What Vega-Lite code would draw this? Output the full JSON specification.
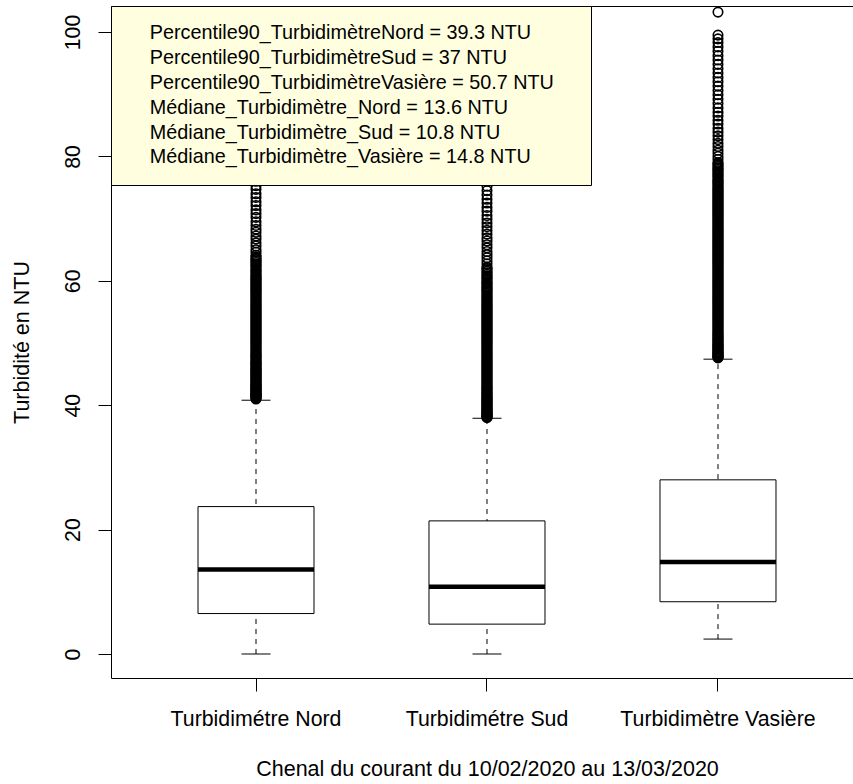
{
  "$schema": "https://vega.github.io/schema/vega-lite/v6.json",
  "width": 742,
  "height": 672,
  "autosize": {"type": "none"},
  "padding": {"left": 111, "top": 6, "right": 0, "bottom": 106},
  "background": "white",
  "datasets": {
    "boxes": [
      {"station": "Turbidimétre Nord", "lower": 0, "q1": 6.5, "median": 13.6, "q3": 23.7, "upper": 40.8},
      {"station": "Turbidimétre Sud", "lower": 0, "q1": 4.8, "median": 10.8, "q3": 21.4, "upper": 37.9},
      {"station": "Turbidimètre Vasière", "lower": 2.4, "q1": 8.4, "median": 14.8, "q3": 28.0, "upper": 47.4}
    ],
    "stats": [
      {"station": "Turbidimétre Nord", "value": 39.3, "label": "Percentile90_TurbidimètreNord = 39.3 NTU"},
      {"station": "Turbidimétre Sud", "value": 37, "label": "Percentile90_TurbidimètreSud = 37 NTU"},
      {"station": "Turbidimètre Vasière", "value": 50.7, "label": "Percentile90_TurbidimètreVasière = 50.7 NTU"},
      {"station": "Turbidimétre Nord", "value": 13.6, "label": "Médiane_Turbidimètre_Nord = 13.6 NTU"},
      {"station": "Turbidimétre Sud", "value": 10.8, "label": "Médiane_Turbidimètre_Sud = 10.8 NTU"},
      {"station": "Turbidimètre Vasière", "value": 14.8, "label": "Médiane_Turbidimètre_Vasière = 14.8 NTU"}
    ],
    "outliers": [
      {"station": "Turbidimétre Nord", "value": 41.0}, {"station": "Turbidimétre Nord", "value": 41.2}, {"station": "Turbidimétre Nord", "value": 41.4}, {"station": "Turbidimétre Nord", "value": 41.6}, {"station": "Turbidimétre Nord", "value": 41.8}, {"station": "Turbidimétre Nord", "value": 42.0}, {"station": "Turbidimétre Nord", "value": 42.3}, {"station": "Turbidimétre Nord", "value": 42.5}, {"station": "Turbidimétre Nord", "value": 42.8}, {"station": "Turbidimétre Nord", "value": 43.0},
      {"station": "Turbidimétre Nord", "value": 43.3}, {"station": "Turbidimétre Nord", "value": 43.6}, {"station": "Turbidimétre Nord", "value": 43.9}, {"station": "Turbidimétre Nord", "value": 44.2}, {"station": "Turbidimétre Nord", "value": 44.5}, {"station": "Turbidimétre Nord", "value": 44.8}, {"station": "Turbidimétre Nord", "value": 45.1}, {"station": "Turbidimétre Nord", "value": 45.4}, {"station": "Turbidimétre Nord", "value": 45.7}, {"station": "Turbidimétre Nord", "value": 46.0},
      {"station": "Turbidimétre Nord", "value": 46.4}, {"station": "Turbidimétre Nord", "value": 46.7}, {"station": "Turbidimétre Nord", "value": 47.0}, {"station": "Turbidimétre Nord", "value": 47.4}, {"station": "Turbidimétre Nord", "value": 47.8}, {"station": "Turbidimétre Nord", "value": 48.1}, {"station": "Turbidimétre Nord", "value": 48.5}, {"station": "Turbidimétre Nord", "value": 48.9}, {"station": "Turbidimétre Nord", "value": 49.3}, {"station": "Turbidimétre Nord", "value": 49.7},
      {"station": "Turbidimétre Nord", "value": 50.1}, {"station": "Turbidimétre Nord", "value": 50.5}, {"station": "Turbidimétre Nord", "value": 50.9}, {"station": "Turbidimétre Nord", "value": 51.3}, {"station": "Turbidimétre Nord", "value": 51.7}, {"station": "Turbidimétre Nord", "value": 52.1}, {"station": "Turbidimétre Nord", "value": 52.5}, {"station": "Turbidimétre Nord", "value": 52.9}, {"station": "Turbidimétre Nord", "value": 53.3}, {"station": "Turbidimétre Nord", "value": 53.7},
      {"station": "Turbidimétre Nord", "value": 54.1}, {"station": "Turbidimétre Nord", "value": 54.5}, {"station": "Turbidimétre Nord", "value": 54.9}, {"station": "Turbidimétre Nord", "value": 55.3}, {"station": "Turbidimétre Nord", "value": 55.7}, {"station": "Turbidimétre Nord", "value": 56.1}, {"station": "Turbidimétre Nord", "value": 56.5}, {"station": "Turbidimétre Nord", "value": 56.9}, {"station": "Turbidimétre Nord", "value": 57.3}, {"station": "Turbidimétre Nord", "value": 57.7},
      {"station": "Turbidimétre Nord", "value": 58.1}, {"station": "Turbidimétre Nord", "value": 58.5}, {"station": "Turbidimétre Nord", "value": 58.9}, {"station": "Turbidimétre Nord", "value": 59.3}, {"station": "Turbidimétre Nord", "value": 59.7}, {"station": "Turbidimétre Nord", "value": 60.1}, {"station": "Turbidimétre Nord", "value": 60.5}, {"station": "Turbidimétre Nord", "value": 60.9}, {"station": "Turbidimétre Nord", "value": 61.4}, {"station": "Turbidimétre Nord", "value": 61.8},
      {"station": "Turbidimétre Nord", "value": 62.3}, {"station": "Turbidimétre Nord", "value": 62.7}, {"station": "Turbidimétre Nord", "value": 63.2}, {"station": "Turbidimétre Nord", "value": 63.6}, {"station": "Turbidimétre Nord", "value": 64.1}, {"station": "Turbidimétre Nord", "value": 64.6}, {"station": "Turbidimétre Nord", "value": 65.0}, {"station": "Turbidimétre Nord", "value": 65.6}, {"station": "Turbidimétre Nord", "value": 66.1}, {"station": "Turbidimétre Nord", "value": 66.7},
      {"station": "Turbidimétre Nord", "value": 67.2}, {"station": "Turbidimétre Nord", "value": 67.8}, {"station": "Turbidimétre Nord", "value": 68.3}, {"station": "Turbidimétre Nord", "value": 68.9}, {"station": "Turbidimétre Nord", "value": 69.5}, {"station": "Turbidimétre Nord", "value": 70.2}, {"station": "Turbidimétre Nord", "value": 70.8}, {"station": "Turbidimétre Nord", "value": 71.4}, {"station": "Turbidimétre Nord", "value": 72.1}, {"station": "Turbidimétre Nord", "value": 72.7},
      {"station": "Turbidimétre Nord", "value": 73.4}, {"station": "Turbidimétre Nord", "value": 74.0}, {"station": "Turbidimétre Nord", "value": 74.7}, {"station": "Turbidimétre Nord", "value": 75.3}, {"station": "Turbidimétre Nord", "value": 76.0},
      {"station": "Turbidimétre Nord", "value": 41.1}, {"station": "Turbidimétre Nord", "value": 41.3}, {"station": "Turbidimétre Nord", "value": 41.5}, {"station": "Turbidimétre Nord", "value": 41.7}, {"station": "Turbidimétre Nord", "value": 41.9}, {"station": "Turbidimétre Nord", "value": 42.15}, {"station": "Turbidimétre Nord", "value": 42.4}, {"station": "Turbidimétre Nord", "value": 42.65}, {"station": "Turbidimétre Nord", "value": 42.9}, {"station": "Turbidimétre Nord", "value": 43.15},
      {"station": "Turbidimétre Nord", "value": 43.45}, {"station": "Turbidimétre Nord", "value": 43.75}, {"station": "Turbidimétre Nord", "value": 44.05}, {"station": "Turbidimétre Nord", "value": 44.35}, {"station": "Turbidimétre Nord", "value": 44.65}, {"station": "Turbidimétre Nord", "value": 44.95}, {"station": "Turbidimétre Nord", "value": 45.25}, {"station": "Turbidimétre Nord", "value": 45.55}, {"station": "Turbidimétre Nord", "value": 45.85}, {"station": "Turbidimétre Nord", "value": 46.2},
      {"station": "Turbidimétre Nord", "value": 46.55}, {"station": "Turbidimétre Nord", "value": 46.85}, {"station": "Turbidimétre Nord", "value": 47.2}, {"station": "Turbidimétre Nord", "value": 47.6}, {"station": "Turbidimétre Nord", "value": 47.95}, {"station": "Turbidimétre Nord", "value": 48.3}, {"station": "Turbidimétre Nord", "value": 48.7}, {"station": "Turbidimétre Nord", "value": 49.1}, {"station": "Turbidimétre Nord", "value": 49.5}, {"station": "Turbidimétre Nord", "value": 49.9},
      {"station": "Turbidimétre Nord", "value": 50.3}, {"station": "Turbidimétre Nord", "value": 50.7}, {"station": "Turbidimétre Nord", "value": 51.1}, {"station": "Turbidimétre Nord", "value": 51.5}, {"station": "Turbidimétre Nord", "value": 51.9}, {"station": "Turbidimétre Nord", "value": 52.3}, {"station": "Turbidimétre Nord", "value": 52.7}, {"station": "Turbidimétre Nord", "value": 53.1}, {"station": "Turbidimétre Nord", "value": 53.5}, {"station": "Turbidimétre Nord", "value": 53.9},
      {"station": "Turbidimétre Nord", "value": 54.3}, {"station": "Turbidimétre Nord", "value": 54.7}, {"station": "Turbidimétre Nord", "value": 55.1}, {"station": "Turbidimétre Nord", "value": 55.5}, {"station": "Turbidimétre Nord", "value": 55.9}, {"station": "Turbidimétre Nord", "value": 56.3}, {"station": "Turbidimétre Nord", "value": 56.7}, {"station": "Turbidimétre Nord", "value": 57.1}, {"station": "Turbidimétre Nord", "value": 57.5}, {"station": "Turbidimétre Nord", "value": 57.9},
      {"station": "Turbidimétre Nord", "value": 58.3}, {"station": "Turbidimétre Nord", "value": 58.7}, {"station": "Turbidimétre Nord", "value": 59.1}, {"station": "Turbidimétre Nord", "value": 59.5}, {"station": "Turbidimétre Nord", "value": 59.9}, {"station": "Turbidimétre Nord", "value": 60.3}, {"station": "Turbidimétre Nord", "value": 60.7}, {"station": "Turbidimétre Nord", "value": 61.15}, {"station": "Turbidimétre Nord", "value": 61.6}, {"station": "Turbidimétre Nord", "value": 62.05},
      {"station": "Turbidimétre Nord", "value": 62.5}, {"station": "Turbidimétre Nord", "value": 62.95}, {"station": "Turbidimétre Nord", "value": 63.4}, {"station": "Turbidimétre Nord", "value": 63.85},
      {"station": "Turbidimétre Sud", "value": 38.0}, {"station": "Turbidimétre Sud", "value": 38.2}, {"station": "Turbidimétre Sud", "value": 38.4}, {"station": "Turbidimétre Sud", "value": 38.6}, {"station": "Turbidimétre Sud", "value": 38.9}, {"station": "Turbidimétre Sud", "value": 39.1}, {"station": "Turbidimétre Sud", "value": 39.4}, {"station": "Turbidimétre Sud", "value": 39.7}, {"station": "Turbidimétre Sud", "value": 40.0}, {"station": "Turbidimétre Sud", "value": 40.3},
      {"station": "Turbidimétre Sud", "value": 40.6}, {"station": "Turbidimétre Sud", "value": 40.9}, {"station": "Turbidimétre Sud", "value": 41.2}, {"station": "Turbidimétre Sud", "value": 41.5}, {"station": "Turbidimétre Sud", "value": 41.9}, {"station": "Turbidimétre Sud", "value": 42.2}, {"station": "Turbidimétre Sud", "value": 42.6}, {"station": "Turbidimétre Sud", "value": 42.9}, {"station": "Turbidimétre Sud", "value": 43.3}, {"station": "Turbidimétre Sud", "value": 43.7},
      {"station": "Turbidimétre Sud", "value": 44.1}, {"station": "Turbidimétre Sud", "value": 44.5}, {"station": "Turbidimétre Sud", "value": 44.9}, {"station": "Turbidimétre Sud", "value": 45.3}, {"station": "Turbidimétre Sud", "value": 45.7}, {"station": "Turbidimétre Sud", "value": 46.1}, {"station": "Turbidimétre Sud", "value": 46.5}, {"station": "Turbidimétre Sud", "value": 46.9}, {"station": "Turbidimétre Sud", "value": 47.3}, {"station": "Turbidimétre Sud", "value": 47.7},
      {"station": "Turbidimétre Sud", "value": 48.1}, {"station": "Turbidimétre Sud", "value": 48.5}, {"station": "Turbidimétre Sud", "value": 48.9}, {"station": "Turbidimétre Sud", "value": 49.3}, {"station": "Turbidimétre Sud", "value": 49.7}, {"station": "Turbidimétre Sud", "value": 50.1}, {"station": "Turbidimétre Sud", "value": 50.5}, {"station": "Turbidimétre Sud", "value": 50.9}, {"station": "Turbidimétre Sud", "value": 51.3}, {"station": "Turbidimétre Sud", "value": 51.7},
      {"station": "Turbidimétre Sud", "value": 52.1}, {"station": "Turbidimétre Sud", "value": 52.5}, {"station": "Turbidimétre Sud", "value": 52.9}, {"station": "Turbidimétre Sud", "value": 53.3}, {"station": "Turbidimétre Sud", "value": 53.7}, {"station": "Turbidimétre Sud", "value": 54.1}, {"station": "Turbidimétre Sud", "value": 54.5}, {"station": "Turbidimétre Sud", "value": 54.9}, {"station": "Turbidimétre Sud", "value": 55.3}, {"station": "Turbidimétre Sud", "value": 55.7},
      {"station": "Turbidimétre Sud", "value": 56.1}, {"station": "Turbidimétre Sud", "value": 56.5}, {"station": "Turbidimétre Sud", "value": 56.9}, {"station": "Turbidimétre Sud", "value": 57.3}, {"station": "Turbidimétre Sud", "value": 57.7}, {"station": "Turbidimétre Sud", "value": 58.2}, {"station": "Turbidimétre Sud", "value": 58.6}, {"station": "Turbidimétre Sud", "value": 59.0}, {"station": "Turbidimétre Sud", "value": 59.5}, {"station": "Turbidimétre Sud", "value": 59.9},
      {"station": "Turbidimétre Sud", "value": 60.4}, {"station": "Turbidimétre Sud", "value": 60.8}, {"station": "Turbidimétre Sud", "value": 61.3}, {"station": "Turbidimétre Sud", "value": 61.8}, {"station": "Turbidimétre Sud", "value": 62.2}, {"station": "Turbidimétre Sud", "value": 62.7}, {"station": "Turbidimétre Sud", "value": 63.2}, {"station": "Turbidimétre Sud", "value": 63.7}, {"station": "Turbidimétre Sud", "value": 64.2}, {"station": "Turbidimétre Sud", "value": 64.7},
      {"station": "Turbidimétre Sud", "value": 65.3}, {"station": "Turbidimétre Sud", "value": 65.8}, {"station": "Turbidimétre Sud", "value": 66.4}, {"station": "Turbidimétre Sud", "value": 66.9}, {"station": "Turbidimétre Sud", "value": 67.5}, {"station": "Turbidimétre Sud", "value": 68.1}, {"station": "Turbidimétre Sud", "value": 68.7}, {"station": "Turbidimétre Sud", "value": 69.3}, {"station": "Turbidimétre Sud", "value": 69.9}, {"station": "Turbidimétre Sud", "value": 70.5},
      {"station": "Turbidimétre Sud", "value": 71.2}, {"station": "Turbidimétre Sud", "value": 71.8}, {"station": "Turbidimétre Sud", "value": 72.5}, {"station": "Turbidimétre Sud", "value": 73.1}, {"station": "Turbidimétre Sud", "value": 73.8}, {"station": "Turbidimétre Sud", "value": 74.5}, {"station": "Turbidimétre Sud", "value": 75.2}, {"station": "Turbidimétre Sud", "value": 76.0},
      {"station": "Turbidimétre Sud", "value": 38.1}, {"station": "Turbidimétre Sud", "value": 38.3}, {"station": "Turbidimétre Sud", "value": 38.5}, {"station": "Turbidimétre Sud", "value": 38.75}, {"station": "Turbidimétre Sud", "value": 39.0}, {"station": "Turbidimétre Sud", "value": 39.25}, {"station": "Turbidimétre Sud", "value": 39.55}, {"station": "Turbidimétre Sud", "value": 39.85}, {"station": "Turbidimétre Sud", "value": 40.15}, {"station": "Turbidimétre Sud", "value": 40.45},
      {"station": "Turbidimétre Sud", "value": 40.75}, {"station": "Turbidimétre Sud", "value": 41.05}, {"station": "Turbidimétre Sud", "value": 41.35}, {"station": "Turbidimétre Sud", "value": 41.7}, {"station": "Turbidimétre Sud", "value": 42.05}, {"station": "Turbidimétre Sud", "value": 42.4}, {"station": "Turbidimétre Sud", "value": 42.75}, {"station": "Turbidimétre Sud", "value": 43.1}, {"station": "Turbidimétre Sud", "value": 43.5}, {"station": "Turbidimétre Sud", "value": 43.9},
      {"station": "Turbidimétre Sud", "value": 44.3}, {"station": "Turbidimétre Sud", "value": 44.7}, {"station": "Turbidimétre Sud", "value": 45.1}, {"station": "Turbidimétre Sud", "value": 45.5}, {"station": "Turbidimétre Sud", "value": 45.9}, {"station": "Turbidimétre Sud", "value": 46.3}, {"station": "Turbidimétre Sud", "value": 46.7}, {"station": "Turbidimétre Sud", "value": 47.1}, {"station": "Turbidimétre Sud", "value": 47.5}, {"station": "Turbidimétre Sud", "value": 47.9},
      {"station": "Turbidimétre Sud", "value": 48.3}, {"station": "Turbidimétre Sud", "value": 48.7}, {"station": "Turbidimétre Sud", "value": 49.1}, {"station": "Turbidimétre Sud", "value": 49.5}, {"station": "Turbidimétre Sud", "value": 49.9}, {"station": "Turbidimétre Sud", "value": 50.3}, {"station": "Turbidimétre Sud", "value": 50.7}, {"station": "Turbidimétre Sud", "value": 51.1}, {"station": "Turbidimétre Sud", "value": 51.5}, {"station": "Turbidimétre Sud", "value": 51.9},
      {"station": "Turbidimétre Sud", "value": 52.3}, {"station": "Turbidimétre Sud", "value": 52.7}, {"station": "Turbidimétre Sud", "value": 53.1}, {"station": "Turbidimétre Sud", "value": 53.5}, {"station": "Turbidimétre Sud", "value": 53.9}, {"station": "Turbidimétre Sud", "value": 54.3}, {"station": "Turbidimétre Sud", "value": 54.7}, {"station": "Turbidimétre Sud", "value": 55.1}, {"station": "Turbidimétre Sud", "value": 55.5}, {"station": "Turbidimétre Sud", "value": 55.9},
      {"station": "Turbidimétre Sud", "value": 56.3}, {"station": "Turbidimétre Sud", "value": 56.7}, {"station": "Turbidimétre Sud", "value": 57.1}, {"station": "Turbidimétre Sud", "value": 57.5}, {"station": "Turbidimétre Sud", "value": 57.95}, {"station": "Turbidimétre Sud", "value": 58.4}, {"station": "Turbidimétre Sud", "value": 58.8}, {"station": "Turbidimétre Sud", "value": 59.25}, {"station": "Turbidimétre Sud", "value": 59.7}, {"station": "Turbidimétre Sud", "value": 60.15},
      {"station": "Turbidimétre Sud", "value": 60.6}, {"station": "Turbidimétre Sud", "value": 61.05}, {"station": "Turbidimétre Sud", "value": 61.55}, {"station": "Turbidimétre Sud", "value": 62.0},
      {"station": "Turbidimètre Vasière", "value": 47.6}, {"station": "Turbidimètre Vasière", "value": 47.8}, {"station": "Turbidimètre Vasière", "value": 48.0}, {"station": "Turbidimètre Vasière", "value": 48.3}, {"station": "Turbidimètre Vasière", "value": 48.5}, {"station": "Turbidimètre Vasière", "value": 48.8}, {"station": "Turbidimètre Vasière", "value": 49.1}, {"station": "Turbidimètre Vasière", "value": 49.4}, {"station": "Turbidimètre Vasière", "value": 49.7}, {"station": "Turbidimètre Vasière", "value": 50.0},
      {"station": "Turbidimètre Vasière", "value": 50.4}, {"station": "Turbidimètre Vasière", "value": 50.7}, {"station": "Turbidimètre Vasière", "value": 51.1}, {"station": "Turbidimètre Vasière", "value": 51.4}, {"station": "Turbidimètre Vasière", "value": 51.8}, {"station": "Turbidimètre Vasière", "value": 52.2}, {"station": "Turbidimètre Vasière", "value": 52.6}, {"station": "Turbidimètre Vasière", "value": 53.0}, {"station": "Turbidimètre Vasière", "value": 53.4}, {"station": "Turbidimètre Vasière", "value": 53.8},
      {"station": "Turbidimètre Vasière", "value": 54.2}, {"station": "Turbidimètre Vasière", "value": 54.6}, {"station": "Turbidimètre Vasière", "value": 55.0}, {"station": "Turbidimètre Vasière", "value": 55.4}, {"station": "Turbidimètre Vasière", "value": 55.8}, {"station": "Turbidimètre Vasière", "value": 56.2}, {"station": "Turbidimètre Vasière", "value": 56.6}, {"station": "Turbidimètre Vasière", "value": 57.0}, {"station": "Turbidimètre Vasière", "value": 57.4}, {"station": "Turbidimètre Vasière", "value": 57.8},
      {"station": "Turbidimètre Vasière", "value": 58.2}, {"station": "Turbidimètre Vasière", "value": 58.6}, {"station": "Turbidimètre Vasière", "value": 59.0}, {"station": "Turbidimètre Vasière", "value": 59.4}, {"station": "Turbidimètre Vasière", "value": 59.8}, {"station": "Turbidimètre Vasière", "value": 60.2}, {"station": "Turbidimètre Vasière", "value": 60.6}, {"station": "Turbidimètre Vasière", "value": 61.0}, {"station": "Turbidimètre Vasière", "value": 61.4}, {"station": "Turbidimètre Vasière", "value": 61.8},
      {"station": "Turbidimètre Vasière", "value": 62.2}, {"station": "Turbidimètre Vasière", "value": 62.6}, {"station": "Turbidimètre Vasière", "value": 63.0}, {"station": "Turbidimètre Vasière", "value": 63.4}, {"station": "Turbidimètre Vasière", "value": 63.8}, {"station": "Turbidimètre Vasière", "value": 64.2}, {"station": "Turbidimètre Vasière", "value": 64.6}, {"station": "Turbidimètre Vasière", "value": 65.0}, {"station": "Turbidimètre Vasière", "value": 65.4}, {"station": "Turbidimètre Vasière", "value": 65.8},
      {"station": "Turbidimètre Vasière", "value": 66.2}, {"station": "Turbidimètre Vasière", "value": 66.6}, {"station": "Turbidimètre Vasière", "value": 67.0}, {"station": "Turbidimètre Vasière", "value": 67.4}, {"station": "Turbidimètre Vasière", "value": 67.8}, {"station": "Turbidimètre Vasière", "value": 68.2}, {"station": "Turbidimètre Vasière", "value": 68.6}, {"station": "Turbidimètre Vasière", "value": 69.0}, {"station": "Turbidimètre Vasière", "value": 69.4}, {"station": "Turbidimètre Vasière", "value": 69.8},
      {"station": "Turbidimètre Vasière", "value": 70.2}, {"station": "Turbidimètre Vasière", "value": 70.6}, {"station": "Turbidimètre Vasière", "value": 71.0}, {"station": "Turbidimètre Vasière", "value": 71.4}, {"station": "Turbidimètre Vasière", "value": 71.8}, {"station": "Turbidimètre Vasière", "value": 72.2}, {"station": "Turbidimètre Vasière", "value": 72.6}, {"station": "Turbidimètre Vasière", "value": 73.0}, {"station": "Turbidimètre Vasière", "value": 73.4}, {"station": "Turbidimètre Vasière", "value": 73.8},
      {"station": "Turbidimètre Vasière", "value": 74.2}, {"station": "Turbidimètre Vasière", "value": 74.6}, {"station": "Turbidimètre Vasière", "value": 75.0}, {"station": "Turbidimètre Vasière", "value": 75.5}, {"station": "Turbidimètre Vasière", "value": 75.9}, {"station": "Turbidimètre Vasière", "value": 76.3}, {"station": "Turbidimètre Vasière", "value": 76.8}, {"station": "Turbidimètre Vasière", "value": 77.2}, {"station": "Turbidimètre Vasière", "value": 77.7}, {"station": "Turbidimètre Vasière", "value": 78.1},
      {"station": "Turbidimètre Vasière", "value": 78.6}, {"station": "Turbidimètre Vasière", "value": 79.0}, {"station": "Turbidimètre Vasière", "value": 79.5}, {"station": "Turbidimètre Vasière", "value": 80.0}, {"station": "Turbidimètre Vasière", "value": 80.5}, {"station": "Turbidimètre Vasière", "value": 81.0}, {"station": "Turbidimètre Vasière", "value": 81.6}, {"station": "Turbidimètre Vasière", "value": 82.1}, {"station": "Turbidimètre Vasière", "value": 82.7}, {"station": "Turbidimètre Vasière", "value": 83.3},
      {"station": "Turbidimètre Vasière", "value": 83.9}, {"station": "Turbidimètre Vasière", "value": 84.5}, {"station": "Turbidimètre Vasière", "value": 85.2}, {"station": "Turbidimètre Vasière", "value": 85.8}, {"station": "Turbidimètre Vasière", "value": 86.5}, {"station": "Turbidimètre Vasière", "value": 87.1}, {"station": "Turbidimètre Vasière", "value": 87.8}, {"station": "Turbidimètre Vasière", "value": 88.5}, {"station": "Turbidimètre Vasière", "value": 89.2}, {"station": "Turbidimètre Vasière", "value": 89.9},
      {"station": "Turbidimètre Vasière", "value": 90.6}, {"station": "Turbidimètre Vasière", "value": 91.3}, {"station": "Turbidimètre Vasière", "value": 92.0}, {"station": "Turbidimètre Vasière", "value": 92.7}, {"station": "Turbidimètre Vasière", "value": 93.4}, {"station": "Turbidimètre Vasière", "value": 94.1}, {"station": "Turbidimètre Vasière", "value": 94.8}, {"station": "Turbidimètre Vasière", "value": 95.5}, {"station": "Turbidimètre Vasière", "value": 96.2}, {"station": "Turbidimètre Vasière", "value": 96.9},
      {"station": "Turbidimètre Vasière", "value": 97.6}, {"station": "Turbidimètre Vasière", "value": 98.3}, {"station": "Turbidimètre Vasière", "value": 98.9}, {"station": "Turbidimètre Vasière", "value": 99.5}, {"station": "Turbidimètre Vasière", "value": 103.2},
      {"station": "Turbidimètre Vasière", "value": 47.7}, {"station": "Turbidimètre Vasière", "value": 47.9}, {"station": "Turbidimètre Vasière", "value": 48.15}, {"station": "Turbidimètre Vasière", "value": 48.4}, {"station": "Turbidimètre Vasière", "value": 48.65}, {"station": "Turbidimètre Vasière", "value": 48.95}, {"station": "Turbidimètre Vasière", "value": 49.25}, {"station": "Turbidimètre Vasière", "value": 49.55}, {"station": "Turbidimètre Vasière", "value": 49.85}, {"station": "Turbidimètre Vasière", "value": 50.2},
      {"station": "Turbidimètre Vasière", "value": 50.55}, {"station": "Turbidimètre Vasière", "value": 50.9}, {"station": "Turbidimètre Vasière", "value": 51.25}, {"station": "Turbidimètre Vasière", "value": 51.6}, {"station": "Turbidimètre Vasière", "value": 52.0}, {"station": "Turbidimètre Vasière", "value": 52.4}, {"station": "Turbidimètre Vasière", "value": 52.8}, {"station": "Turbidimètre Vasière", "value": 53.2}, {"station": "Turbidimètre Vasière", "value": 53.6}, {"station": "Turbidimètre Vasière", "value": 54.0},
      {"station": "Turbidimètre Vasière", "value": 54.4}, {"station": "Turbidimètre Vasière", "value": 54.8}, {"station": "Turbidimètre Vasière", "value": 55.2}, {"station": "Turbidimètre Vasière", "value": 55.6}, {"station": "Turbidimètre Vasière", "value": 56.0}, {"station": "Turbidimètre Vasière", "value": 56.4}, {"station": "Turbidimètre Vasière", "value": 56.8}, {"station": "Turbidimètre Vasière", "value": 57.2}, {"station": "Turbidimètre Vasière", "value": 57.6}, {"station": "Turbidimètre Vasière", "value": 58.0},
      {"station": "Turbidimètre Vasière", "value": 58.4}, {"station": "Turbidimètre Vasière", "value": 58.8}, {"station": "Turbidimètre Vasière", "value": 59.2}, {"station": "Turbidimètre Vasière", "value": 59.6}, {"station": "Turbidimètre Vasière", "value": 60.0}, {"station": "Turbidimètre Vasière", "value": 60.4}, {"station": "Turbidimètre Vasière", "value": 60.8}, {"station": "Turbidimètre Vasière", "value": 61.2}, {"station": "Turbidimètre Vasière", "value": 61.6}, {"station": "Turbidimètre Vasière", "value": 62.0},
      {"station": "Turbidimètre Vasière", "value": 62.4}, {"station": "Turbidimètre Vasière", "value": 62.8}, {"station": "Turbidimètre Vasière", "value": 63.2}, {"station": "Turbidimètre Vasière", "value": 63.6}, {"station": "Turbidimètre Vasière", "value": 64.0}, {"station": "Turbidimètre Vasière", "value": 64.4}, {"station": "Turbidimètre Vasière", "value": 64.8}, {"station": "Turbidimètre Vasière", "value": 65.2}, {"station": "Turbidimètre Vasière", "value": 65.6}, {"station": "Turbidimètre Vasière", "value": 66.0},
      {"station": "Turbidimètre Vasière", "value": 66.4}, {"station": "Turbidimètre Vasière", "value": 66.8}, {"station": "Turbidimètre Vasière", "value": 67.2}, {"station": "Turbidimètre Vasière", "value": 67.6}, {"station": "Turbidimètre Vasière", "value": 68.0}, {"station": "Turbidimètre Vasière", "value": 68.4}, {"station": "Turbidimètre Vasière", "value": 68.8}, {"station": "Turbidimètre Vasière", "value": 69.2}, {"station": "Turbidimètre Vasière", "value": 69.6}, {"station": "Turbidimètre Vasière", "value": 70.0},
      {"station": "Turbidimètre Vasière", "value": 70.4}, {"station": "Turbidimètre Vasière", "value": 70.8}, {"station": "Turbidimètre Vasière", "value": 71.2}, {"station": "Turbidimètre Vasière", "value": 71.6}, {"station": "Turbidimètre Vasière", "value": 72.0}, {"station": "Turbidimètre Vasière", "value": 72.4}, {"station": "Turbidimètre Vasière", "value": 72.8}, {"station": "Turbidimètre Vasière", "value": 73.2}, {"station": "Turbidimètre Vasière", "value": 73.6}, {"station": "Turbidimètre Vasière", "value": 74.0},
      {"station": "Turbidimètre Vasière", "value": 74.4}, {"station": "Turbidimètre Vasière", "value": 74.8}, {"station": "Turbidimètre Vasière", "value": 75.25}, {"station": "Turbidimètre Vasière", "value": 75.7}, {"station": "Turbidimètre Vasière", "value": 76.1}, {"station": "Turbidimètre Vasière", "value": 76.55}, {"station": "Turbidimètre Vasière", "value": 77.0}, {"station": "Turbidimètre Vasière", "value": 77.45}, {"station": "Turbidimètre Vasière", "value": 77.9}, {"station": "Turbidimètre Vasière", "value": 78.35},
      {"station": "Turbidimètre Vasière", "value": 78.8}
    ]
  },
  "layer": [
    {
      "layer": [
        {
          "data": {"name": "boxes"},
          "mark": {"type": "rule", "color": "black", "strokeWidth": 1, "strokeDash": [5, 5]},
          "encoding": {
            "x": {"field": "station", "type": "nominal", "title": "Chenal du courant du 10/02/2020 au 13/03/2020",
                  "scale": {"type": "band", "domain": ["Turbidimétre Nord", "Turbidimétre Sud", "Turbidimètre Vasière"], "paddingInner": 0, "paddingOuter": 0.1061, "align": 0.602},
                  "axis": {"orient": "bottom", "labelAngle": 0, "grid": false, "domainColor": "black", "tickColor": "black", "tickSize": 13,
                           "labelFontSize": 21.3, "labelColor": "black", "labelBaseline": "alphabetic", "labelPadding": 34, "labelLimit": 0,
                           "titleFontSize": 21.5, "titleFontWeight": "normal", "titleColor": "black", "titleX": 376, "titleY": 97, "titleBaseline": "alphabetic", "titleAlign": "center", "titleAnchor": "middle"}},
            "y": {"field": "lower", "type": "quantitative", "title": "Turbidité en NTU",
                  "scale": {"domain": [-3.86, 104.18], "nice": false, "zero": false},
                  "axis": {"values": [0, 20, 40, 60, 80, 100], "grid": false, "domainColor": "black", "tickColor": "black", "tickSize": 13,
                           "labelAngle": 270, "labelAlign": "center", "labelBaseline": "alphabetic", "labelPadding": 19, "labelFontSize": 21.3, "labelColor": "black",
                           "titleFontSize": 21.5, "titleFontWeight": "normal", "titleColor": "black", "titleAngle": 270, "titleX": -83, "titleY": 336, "titleBaseline": "alphabetic", "titleAlign": "center"}},
            "y2": {"field": "upper"}
          }
        },
        {
          "data": {"name": "boxes"},
          "mark": {"type": "bar", "size": 116, "fill": "white", "stroke": "black", "strokeWidth": 1},
          "encoding": {
            "x": {"field": "station", "type": "nominal", "title": "Chenal du courant du 10/02/2020 au 13/03/2020"},
            "y": {"field": "q1", "type": "quantitative", "title": "Turbidité en NTU"},
            "y2": {"field": "q3"}
          }
        },
        {
          "data": {"name": "boxes"},
          "mark": {"type": "tick", "size": 116, "thickness": 4.5, "color": "black", "opacity": 1},
          "encoding": {
            "x": {"field": "station", "type": "nominal", "title": "Chenal du courant du 10/02/2020 au 13/03/2020"},
            "y": {"field": "median", "type": "quantitative", "title": "Turbidité en NTU"}
          }
        },
        {
          "data": {"name": "boxes"},
          "mark": {"type": "tick", "size": 29, "thickness": 1, "color": "black", "opacity": 1},
          "encoding": {
            "x": {"field": "station", "type": "nominal", "title": "Chenal du courant du 10/02/2020 au 13/03/2020"},
            "y": {"field": "lower", "type": "quantitative", "title": "Turbidité en NTU"}
          }
        },
        {
          "data": {"name": "boxes"},
          "mark": {"type": "tick", "size": 29, "thickness": 1, "color": "black", "opacity": 1},
          "encoding": {
            "x": {"field": "station", "type": "nominal", "title": "Chenal du courant du 10/02/2020 au 13/03/2020"},
            "y": {"field": "upper", "type": "quantitative", "title": "Turbidité en NTU"}
          }
        },
        {
          "data": {"name": "outliers"},
          "mark": {"type": "point", "shape": "circle", "filled": false, "size": 90, "strokeWidth": 1.6, "color": "black", "opacity": 1},
          "encoding": {
            "x": {"field": "station", "type": "nominal", "title": "Chenal du courant du 10/02/2020 au 13/03/2020"},
            "y": {"field": "value", "type": "quantitative", "title": "Turbidité en NTU"}
          }
        }
      ]
    },
    {
      "data": {"name": "stats"},
      "mark": {"type": "point", "opacity": 0},
      "encoding": {
        "x": {"field": "station", "type": "nominal", "title": null,
              "axis": {"orient": "top", "labels": false, "ticks": false, "domain": true, "domainColor": "black", "title": null}},
        "y": {"field": "value", "type": "quantitative", "title": "Turbidité en NTU"},
        "color": {"field": "label", "type": "nominal", "sort": null, "scale": {"range": ["black"]},
                  "legend": {"orient": "top-left", "offset": 0, "title": " ", "titleOrient": "right", "titlePadding": 20, "titleFontSize": 1,
                             "padding": 17.5, "fillColor": "#FFFFE0", "strokeColor": "black",
                             "labelFontSize": 19.8, "labelFont": "Liberation Sans", "labelColor": "black", "labelLimit": 0,
                             "symbolSize": 0, "symbolOpacity": 0, "symbolStrokeWidth": 0, "labelOffset": 1.5, "rowPadding": 3.8}}
      }
    }
  ],
  "resolve": {"axis": {"x": "independent"}},
  "config": {
    "view": {"stroke": null},
    "font": "Liberation Sans"
  }
}
